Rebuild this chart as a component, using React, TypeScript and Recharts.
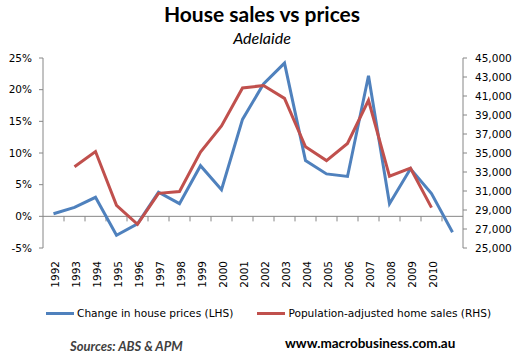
import React from 'react';
import { LineChart, Line, XAxis, YAxis, ReferenceLine } from 'recharts';

// years on the category axis (last one carries no label in the original)
const years = [1992, 1993, 1994, 1995, 1996, 1997, 1998, 1999, 2000, 2001, 2002, 2003, 2004, 2005, 2006, 2007, 2008, 2009, 2010, 2011];
// change in house prices, % (LHS)
const priceChange = [0.4, 1.4, 3.0, -3.0, -1.2, 3.8, 2.0, 8.0, 4.2, 15.3, 20.9, 24.2, 8.8, 6.7, 6.3, 22.2, 2.0, 7.5, 3.6, -2.5];
// population-adjusted home sales (RHS)
const homeSales = [null, 33550, 35150, 29500, 27500, 30750, 30950, 35100, 37850, 41850, 42100, 40750, 35650, 34200, 36000, 40550, 32550, 33400, 29250, null];

const leftTicks = [-5, 0, 5, 10, 15, 20, 25];
const rightTicks = [25000, 27000, 29000, 31000, 33000, 35000, 37000, 39000, 41000, 43000, 45000];

const data = years.map((year, i) => ({ year, price: priceChange[i], sales: homeSales[i] }));

// boundaries between categories, for the little tick marks hanging off the zero line
const boundaries = years.slice(0, -1).map(y => y + 0.5);

const BLUE = '#4F81BD';
const RED = '#C0504D';
const AXIS = '#868686';
const TICK_FONT = { fontFamily: 'DejaVu Sans', fontSize: 10.5, fill: '#000' };

const YearTick = (props: any) => {
  const { x, y, payload } = props;
  const label = payload.value === 2011 ? '' : String(payload.value);
  return (
    <text
      x={x + 1}
      y={y}
      transform={`rotate(-90, ${x + 1}, ${y})`}
      textAnchor="end"
      dominantBaseline="central"
      style={TICK_FONT}
    >
      {label}
    </text>
  );
};

const LegendItem = ({ color, label }: { color: string; label: string }) => (
  <div style={{ display: 'flex', alignItems: 'center' }}>
    <div style={{ width: 28, height: 3, background: color, marginRight: 3 }} />
    <span>{label}</span>
  </div>
);

export default function App() {
  return (
    <div style={{ position: 'relative', width: 524, height: 364, background: '#fff', overflow: 'hidden' }}>
      <style>{`body { margin: 0; }`}</style>
      <div style={{ position: 'absolute', top: 0, left: 0, width: 524, textAlign: 'center', fontFamily: 'Lato', fontWeight: 700, fontSize: 21, lineHeight: '28px' }}>
        House sales vs prices
      </div>
      <div style={{ position: 'absolute', top: 28, left: 0, width: 524, textAlign: 'center', fontFamily: 'Lato', fontStyle: 'italic', fontSize: 16, lineHeight: '20px' }}>
        Adelaide
      </div>

      <div style={{ position: 'absolute', top: 0, left: 0 }}>
        <LineChart width={524} height={364} data={data} margin={{ top: 58, right: 0, bottom: 65, left: 0 }}>
          <XAxis
            dataKey="year"
            type="number"
            domain={[1991.5, 2011.5]}
            ticks={years}
            interval={0}
            axisLine={false}
            tickLine={false}
            tickSize={0}
            tickMargin={13}
            height={51}
            tick={<YearTick />}
          />
          <YAxis
            yAxisId="left"
            domain={[-5, 25]}
            ticks={leftTicks}
            tickFormatter={(v: number) => `${v}%`}
            width={43}
            stroke={AXIS}
            tickSize={4}
            tickMargin={7}
            tick={TICK_FONT}
          />
          <YAxis
            yAxisId="right"
            orientation="right"
            domain={[25000, 45000]}
            ticks={rightTicks}
            tickFormatter={(v: number) => v.toLocaleString('en-US')}
            width={61}
            stroke={AXIS}
            tickSize={4}
            tickMargin={8}
            tick={TICK_FONT}
          />
          <ReferenceLine yAxisId="left" y={0} stroke={AXIS} strokeWidth={1} />
          {boundaries.map(b => (
            <ReferenceLine
              key={b}
              yAxisId="left"
              segment={[{ x: b, y: 0 }, { x: b, y: -0.8 }]}
              stroke={AXIS}
              strokeWidth={1}
            />
          ))}
          <Line yAxisId="left" dataKey="price" stroke={BLUE} strokeWidth={3} dot={false} isAnimationActive={false} />
          <Line yAxisId="right" dataKey="sales" stroke={RED} strokeWidth={3} dot={false} isAnimationActive={false} />
        </LineChart>
      </div>

      <div style={{ position: 'absolute', top: 305, left: 46, display: 'flex', gap: 24, fontFamily: 'DejaVu Sans', fontSize: 10.6, lineHeight: '16px', color: '#000' }}>
        <LegendItem color={BLUE} label="Change in house prices (LHS)" />
        <LegendItem color={RED} label="Population-adjusted home sales (RHS)" />
      </div>

      <div style={{ position: 'absolute', top: 337, left: 70, fontFamily: 'Lato', fontWeight: 700, fontStyle: 'italic', fontSize: 13, lineHeight: '18px', color: '#404040' }}>
        Sources: ABS &amp; APM
      </div>
      <div style={{ position: 'absolute', top: 334, left: 285, fontFamily: 'Lato', fontWeight: 700, fontSize: 13.5, lineHeight: '18px', color: '#000' }}>
        www.macrobusiness.com.au
      </div>
    </div>
  );
}
